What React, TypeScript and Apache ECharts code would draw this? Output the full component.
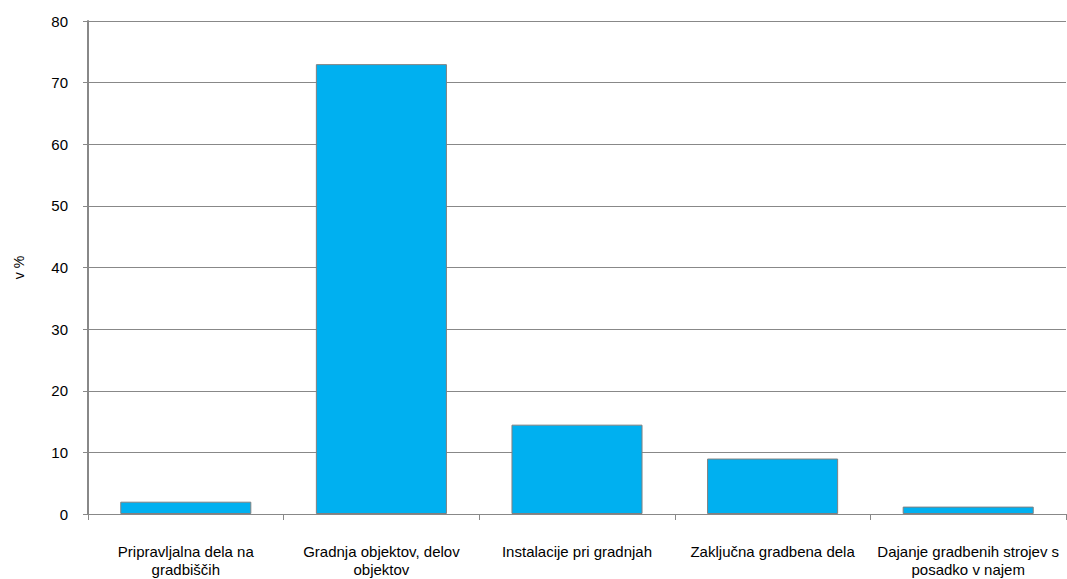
import React, { useEffect, useRef } from "react";
import * as echarts from "echarts";

const categories = [
  "Pripravljalna dela na\ngradbiščih",
  "Gradnja objektov, delov\nobjektov",
  "Instalacije pri gradnjah",
  "Zaključna gradbena dela",
  "Dajanje gradbenih strojev s\nposadko v najem",
];
const values = [2.0, 73.0, 14.5, 9.0, 1.2];
const yTicks = { min: 0, max: 80, interval: 10 };
const yName = "v %";

export default function App() {
  const ref = useRef<HTMLDivElement>(null);
  useEffect(() => {
    if (!ref.current) return;
    const chart = echarts.init(ref.current, null, { renderer: "svg" });
    const font = "'Liberation Sans', Arial, sans-serif";
    chart.setOption({
      animation: false,
      grid: { left: 88, right: 1, top: 21, bottom: 65, containLabel: false },
      xAxis: {
        type: "category",
        data: categories,
        axisLine: { lineStyle: { color: "#888888", width: 1 } },
        axisTick: { show: true, alignWithLabel: false, length: 6, lineStyle: { color: "#888888" } },
        axisLabel: {
          interval: 0,
          color: "#000",
          fontFamily: font,
          fontSize: 15,
          lineHeight: 18,
          margin: 28,
        },
      },
      yAxis: {
        type: "value",
        min: yTicks.min,
        max: yTicks.max,
        interval: yTicks.interval,
        name: yName,
        nameLocation: "middle",
        nameGap: 62,
        nameTextStyle: { color: "#000", fontFamily: font, fontSize: 14 },
        axisLine: { show: true, lineStyle: { color: "#888888", width: 2 } },
        axisTick: { show: true, length: 5, lineStyle: { color: "#888888" } },
        axisLabel: { color: "#000", fontFamily: font, fontSize: 15, margin: 20 },
        splitLine: { show: true, lineStyle: { color: "#888888", width: 1 } },
      },
      series: [
        {
          type: "bar",
          data: values,
          barWidth: "67%",
          itemStyle: { color: "#00B0F0", borderColor: "#808080", borderWidth: 1 },
        },
      ],
    });
    return () => chart.dispose();
  }, []);
  return <div ref={ref} style={{ width: 1067, height: 579, position: "absolute", left: 0, top: 0 }} />;
}
